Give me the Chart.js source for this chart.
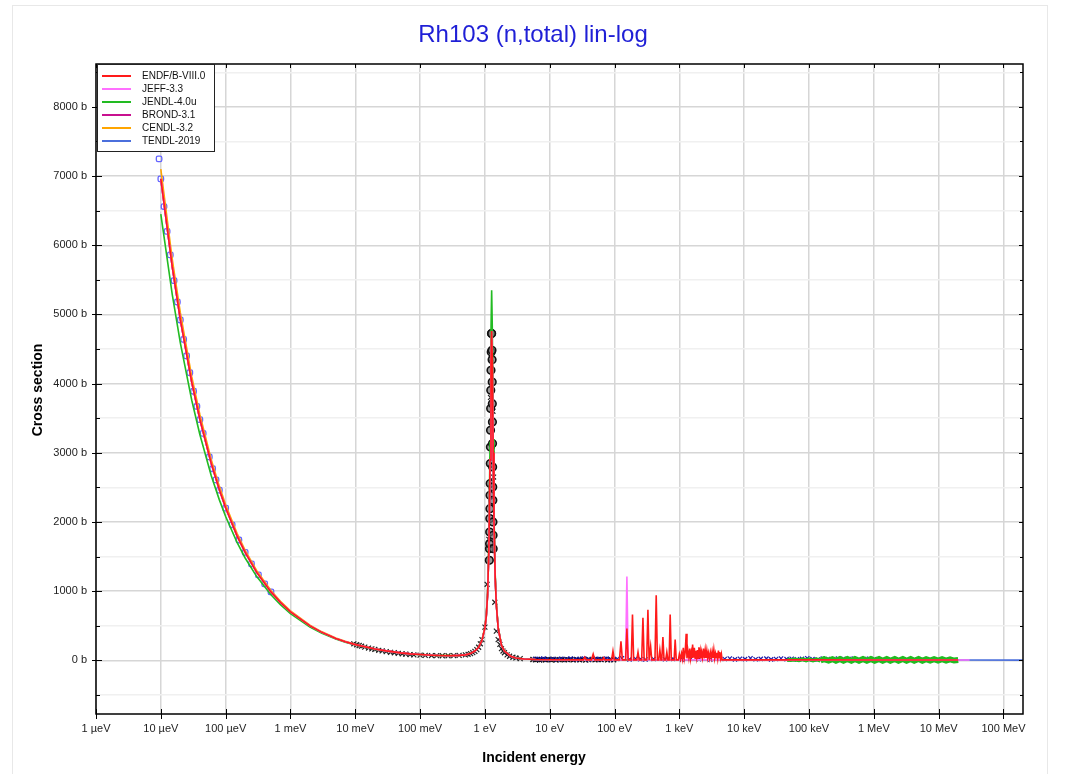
<!DOCTYPE html>
<html>
<head>
<meta charset="utf-8">
<script src="https://cdn.jsdelivr.net/npm/chart.js@4.4.0/dist/chart.umd.min.js"></script>
<style>
  body { margin: 0; background: #fff; }
  #wrap { position: relative; width: 1067px; height: 774px; overflow: hidden; }
  #card { position: absolute; left: 12px; top: 5px; width: 1034px; height: 800px; border: 1px solid #e8e8e8; }
  #plot { position: absolute; left: 0; top: 0; }
</style>
</head>
<body>
<div id="wrap">
  <div id="card"></div>
  <canvas id="plot" width="1067" height="774"></canvas>
</div>
<script>
// axis ticks
const xTickValues = [1e-6, 1e-5, 1e-4, 1e-3, 1e-2, 1e-1, 1, 10, 100, 1e3, 1e4, 1e5, 1e6, 1e7, 1e8]
const xTickLabels = ['1 \u00b5eV', '10 \u00b5eV', '100 \u00b5eV', '1 meV', '10 meV', '100 meV', '1 eV', '10 eV',
  '100 eV', '1 keV', '10 keV', '100 keV', '1 MeV', '10 MeV', '100 MeV']
const yTickValues = [-500, 0, 500, 1000, 1500, 2000, 2500, 3000, 3500, 4000, 4500, 5000, 5500, 6000, 6500, 7000, 7500, 8000, 8500]

// thermal + first resonance (eV / barn)
const smoothE = [1e-5, 1.5e-5, 2e-5, 3e-5, 4e-5, 6e-5, 8e-5, 1e-4, 1.5e-4, 2e-4, 3e-4, 5e-4, 7e-4, 1e-3, 2e-3, 3e-3,
  5e-3, 7e-3, 1e-2, 2e-2, 3e-2, 5e-2, 7e-2, 0.1, 0.15, 0.2, 0.3, 0.4, 0.5, 0.6, 0.7, 0.8, 0.9, 1.0, 1.05, 1.1, 1.15,
  1.2, 1.24, 1.27, 1.3, 1.34, 1.38, 1.44, 1.5, 1.6, 1.8, 2.0, 2.5, 3, 4, 6, 10]
const endfSmooth = [6960, 5690, 4925, 4020, 3485, 2845, 2465, 2205, 1800, 1560, 1275, 990, 838, 702, 498, 408,
  318, 270, 228, 165, 137, 108, 94, 84, 75, 70, 68, 72, 80, 100, 135, 190, 290, 470, 640, 950, 1600,
  2900, 4300, 4760, 4350, 3000, 2000, 1200, 800, 470, 220, 135, 60, 35, 20, 12, 9]
const jendlSmooth = [6450, 5290, 4590, 3760, 3265, 2670, 2320, 2080, 1705, 1480, 1215, 948, 805, 676, 482, 396,
  310, 264, 223, 162, 135, 107, 93, 83, 74, 69, 67, 71, 79, 99, 134, 190, 292, 480, 660, 990, 1700,
  3150, 4750, 5350, 4800, 3200, 2100, 1250, 820, 480, 225, 138, 61, 36, 20, 12, 9]
const cendlSmooth = [7100, 5800, 5025, 4100, 3555, 2900, 2515, 2250, 1836, 1590, 1300, 1010, 855, 716, 508, 416,
  324, 275, 232, 168, 139, 110, 95, 85, 76, 71, 69, 73, 81, 101, 136, 192, 292, 475, 645, 960, 1620,
  2930, 4340, 4800, 4390, 3030, 2020, 1210, 808, 475, 222, 136, 61, 35, 20, 12, 9]

// resolved resonances, ENDF/B-VIII.0
const endfResE = [
  30, 33, 34.6, 36.5,   44, 46.8, 49.5,   65, 68, 71,   90, 94.5, 99,   119, 125.5, 132,
  148, 155, 162,   181, 189, 197,   220, 230, 240,   262, 274, 286,   313, 327, 341,
  345, 360, 375,   420, 439, 458,   480, 500, 520,   535, 557, 580,   615, 640, 665,
  695, 721, 750,   830, 861, 895,   965, 1000, 1040, 1080, 1115, 1150, 1190, 1230, 1273,
  1310, 1350, 1400, 1450, 1490, 1530, 1565, 1600, 1650, 1700, 1750, 1800, 1850, 1900, 1950,
  2000, 2050, 2100, 2150, 2200, 2270, 2350, 2420, 2500, 2570, 2650, 2720, 2800, 2900, 3000,
  3100, 3200, 3300, 3400, 3500, 3600, 3700, 3800, 3900, 4000, 4100, 4200, 4320, 4450, 4550,
  5000]
const endfResXs = [
  8, 8, 45, 8,   8, 90, 8,   8, 40, 8,   8, 134, 8,   8, 274, 8,
  8, 460, 8,   8, 664, 8,   8, 120, 8,   8, 616, 8,   8, 731, 8,
  8, 200, 8,   8, 942, 8,   8, 150, 8,   8, 336, 8,   8, 120, 8,
  8, 664, 8,   8, 303, 8,   8, 90, 20, 100, 25, 180, 30, 120, 385,
  30, 150, 40, 170, 30, 110, 35, 230, 40, 180, 30, 140, 45, 150, 30,
  190, 40, 130, 30, 120, 40, 170, 30, 150, 35, 140, 40, 110, 30, 120,
  40, 130, 35, 150, 30, 100, 40, 110, 30, 140, 40, 120, 30, 90, 8,
  8]
const jeffResE = [30, 148, 155, 162, 5000]
const jeffResXs = [8, 8, 1212, 8, 8]
const flatResE = [30, 5000]
const flatResXs = [8, 8]

// fast range
const endfHighE = [1e4, 1e5, 1e6, 5e6, 2e7]
const endfHighXs = [8, 7, 6, 5, 5]
const jeffHighE = [1e4, 1e6, 1e7, 3e7]
const jeffHighXs = [8, 6, 5, 5]
const tendlHighE = [1e4, 1e6, 2e7, 2e8]
const tendlHighXs = [8, 6, 5, 4]
const jendlHighE = [1e4, 4.6e4, 5.2e4, 6e4, 7e4, 8e4, 9e4, 1e5, 1.15e5, 1.3e5, 1.5e5, 1.7e5, 2e5, 2.3e5, 2.6e5,
  3e5, 3.4e5, 3.9e5, 4.5e5, 5.1e5, 5.9e5, 6.8e5, 7.8e5, 9e5, 1.03e6, 1.2e6, 1.37e6, 1.58e6, 1.8e6, 2.1e6,
  2.4e6, 2.8e6, 3.2e6, 3.7e6, 4.2e6, 4.9e6, 5.6e6, 6.4e6, 7.4e6, 8.5e6, 9.8e6, 1.13e7, 1.3e7, 1.5e7, 1.73e7, 2e7]
const jendlHighXs = [8, 10, 4, 12, 2, 14, 0, 15, -2, 16, -3, 18, -4, 18, -5,
  20, -5, 20, -6, 20, -6, 20, -6, 20, -6, 20, -6, 20, -6, 20,
  -6, 19, -5, 19, -5, 19, -4, 18, -4, 18, -4, 16, -3, 15, -2, 5]

// measured points
const expBlueE = [9.4e-6, 1.0e-5, 1.12e-5, 1.25e-5, 1.4e-5, 1.6e-5, 1.8e-5, 2.0e-5, 2.25e-5, 2.5e-5, 2.8e-5, 3.2e-5,
  3.6e-5, 4.0e-5, 4.5e-5, 5.6e-5, 6.3e-5, 7.1e-5, 8.0e-5, 1.0e-4, 1.26e-4, 1.6e-4, 2.0e-4, 2.5e-4, 3.2e-4, 4.0e-4, 5.0e-4]
const expBlueXs = [7250, 6960, 6560, 6200, 5860, 5490, 5180, 4920, 4640, 4400, 4160, 3890,
  3670, 3480, 3280, 2940, 2770, 2610, 2460, 2200, 1960, 1740, 1560, 1395, 1235, 1105, 990]
const expCrossE = [0.0095, 0.0105, 0.0115, 0.0125, 0.014, 0.016, 0.018, 0.02, 0.023, 0.026, 0.03, 0.035, 0.04,
  0.046, 0.053, 0.06, 0.07, 0.08, 0.1, 0.12, 0.15, 0.18, 0.22, 0.27, 0.33, 0.4, 0.5, 0.55, 0.6, 0.65, 0.7,
  0.75, 0.8, 0.85, 0.9, 1.0, 1.08, 1.15, 1.22, 1.25, 1.33, 1.36, 1.42, 1.5, 1.6, 1.7, 1.8, 1.9, 2.0, 2.2,
  2.4, 2.7, 3.0, 3.5]
const expCrossXs = [240, 226, 215, 205, 192, 178, 167, 158, 146, 137, 127, 117, 110,
  102, 95, 90, 84, 80, 75, 72, 70, 68, 67, 67, 68, 72, 80, 88, 98, 112, 130,
  155, 190, 240, 300, 480, 1100, 1750, 3800, 4360, 3600, 2650, 840, 423, 300, 230, 170, 135, 110, 80,
  60, 45, 35, 25]
const expCircE = [1.17, 1.175, 1.18, 1.185, 1.19, 1.195, 1.2, 1.205, 1.21, 1.215, 1.22, 1.225, 1.23, 1.24, 1.25,
  1.262, 1.27, 1.285, 1.29, 1.295, 1.3, 1.305, 1.31, 1.315, 1.32, 1.325, 1.33, 1.335, 1.34]
const expCircXs = [1446, 1615, 1687, 1855, 2049, 2193, 2386, 2555, 2844, 3084, 3326, 3639, 3904, 4193, 4458,
  4724, 4724, 4482, 4347, 4024, 3711, 3446, 3133, 2796, 2507, 2314, 2001, 1808, 1615]
const expBandE = [5.5, 6, 6.5, 7, 7.5, 8, 8.7, 9.5, 10.5, 11.5, 12.5, 14, 15.5, 17, 19, 21, 23, 26, 29, 32,
  36, 40, 45, 50, 56, 62, 70, 78, 87, 97]
const expBandXs = [12, 8, 15, 6, 10, 14, 7, 12, 9, 15, 6, 11, 13, 8, 10, 14, 7, 12, 9, 16,
  6, 11, 14, 8, 12, 10, 15, 7, 11, 9]
const expNavyE = [6, 7, 8, 9, 11, 13, 15, 18, 21, 25, 29, 34, 40, 52, 60, 75, 85, 110, 130, 170,
  210, 250, 300, 400, 600, 800, 1100, 1500, 2000, 3000, 5000, 6000, 7200, 8600, 1.03e4, 1.25e4, 1.5e4, 1.8e4, 2.2e4, 2.6e4,
  3.1e4, 3.7e4, 4.5e4, 5.4e4, 6.5e4, 7.8e4, 9.4e4, 1.13e5, 1.36e5, 1.63e5, 1.96e5, 2.35e5, 2.8e5, 3.4e5, 4.1e5, 4.9e5,
  5.9e5, 7.1e5, 8.5e5, 1.02e6]
const expNavyXs = [22, 18, 25, 15, 20, 12, 24, 16, 28, 14, 19, 26, 12, 22, 17, 25, 13, 20, 30, 15,
  24, 18, 12, 20, 16, 22, 14, 26, 18, 15, 20, 28, 14, 24, 18, 30, 16, 22, 26, 14,
  20, 28, 18, 24, 15, 22, 30, 18, 12, 25, 20, 16, 28, 22, 18, 26, 14, 20, 24, 18]

const pts = (xs, ys) => xs.map((x, i) => ({ x: x, y: ys[i] }))

function libLine(label, color, e, xs) {
  return { label: label, inLegend: true, data: pts(e, xs), showLine: true, borderColor: color,
    backgroundColor: color, borderWidth: 1.6, pointRadius: 0, tension: 0 }
}
function markers(e, xs, style, radius, stroke, fill, width) {
  return { label: '', data: pts(e, xs), showLine: false, pointStyle: style, pointRadius: radius,
    borderColor: stroke, backgroundColor: fill, borderWidth: width }
}

const jendl = libLine('JENDL-4.0u', '#22bb22', [...smoothE, ...flatResE, ...jendlHighE], [...jendlSmooth, ...flatResXs, ...jendlHighXs])
// the fast-range band is drawn thick
jendl.segment = { borderWidth: c => (c.p0.parsed.x >= 4.5e4 ? (c.p0.parsed.x >= 1.5e5 ? 6 : 4) : 1.6) }

const datasets = [
  libLine('ENDF/B-VIII.0', '#ff1a1a', [...smoothE, ...endfResE, ...endfHighE], [...endfSmooth, ...endfResXs, ...endfHighXs]),
  libLine('JEFF-3.3', '#ff70ff', [...smoothE, ...jeffResE, ...jeffHighE], [...endfSmooth, ...jeffResXs, ...jeffHighXs]),
  jendl,
  libLine('BROND-3.1', '#c8108f', [...smoothE, ...flatResE, ...endfHighE], [...endfSmooth, ...flatResXs, ...endfHighXs]),
  libLine('CENDL-3.2', '#ffa500', [...smoothE, ...flatResE, ...endfHighE], [...cendlSmooth, ...flatResXs, ...endfHighXs]),
  libLine('TENDL-2019', '#4b6fdc', [...smoothE, ...flatResE, ...tendlHighE], [...endfSmooth, ...flatResXs, ...tendlHighXs]),
  markers(expCircE, expCircXs, 'circle', 3.8, '#111', 'rgba(110,110,110,0.7)', 1.6),
  markers(expCrossE, expCrossXs, 'crossRot', 3.5, '#222', '#222', 1.2),
  markers(expBlueE, expBlueXs, 'rectRounded', 3.2, '#6464ff', 'rgba(255,255,255,0)', 1.3),
  markers(expNavyE, expNavyXs, 'crossRot', 3, '#1c1ca8', '#1c1ca8', 1.2),
  markers(expBandE, expBandXs, 'crossRot', 3.5, '#111', '#111', 1.3)
]

const decor = {
  id: 'decor',
  afterDraw(chart) {
    const ctx = chart.ctx, a = chart.chartArea, x = chart.scales.x, y = chart.scales.y
    const seg = (x1, y1, x2, y2) => { ctx.beginPath(); ctx.moveTo(x1, y1); ctx.lineTo(x2, y2); ctx.stroke() }
    ctx.save()
    ctx.strokeStyle = '#000'
    ctx.lineWidth = 1
    xTickValues.forEach(v => {
      const px = Math.round(x.getPixelForValue(v)) + 0.5
      seg(px, a.bottom - 5, px, a.bottom + 5)
      seg(px, a.top, px, a.top + 4)
    })
    yTickValues.forEach(v => {
      const py = Math.round(y.getPixelForValue(v)) + 0.5
      if (v % 1000 === 0) {
        seg(a.left - 4, py, a.left + 6, py)
        seg(a.right - 4, py, a.right, py)
      } else {
        seg(a.left, py, a.left + 4, py)
        seg(a.right - 3, py, a.right, py)
      }
    })
    ctx.lineWidth = 1.5
    ctx.strokeRect(a.left, a.top, a.right - a.left, a.bottom - a.top)

    // legend box inside the plot
    const items = chart.data.datasets.filter(d => d.inLegend)
    const lx = a.left + 1, ly = a.top, lw = 117, lh = 87
    ctx.fillStyle = '#fff'
    ctx.fillRect(lx, ly, lw, lh)
    ctx.lineWidth = 1
    ctx.strokeStyle = '#222'
    ctx.strokeRect(lx + 0.5, ly + 0.5, lw, lh)
    ctx.font = '10px "Liberation Sans", Arial, sans-serif'
    ctx.textBaseline = 'middle'
    ctx.textAlign = 'left'
    items.forEach((d, i) => {
      const ry = ly + 12 + i * 13
      ctx.strokeStyle = d.borderColor
      ctx.lineWidth = 2
      seg(lx + 5, ry, lx + 34, ry)
      ctx.fillStyle = '#111'
      ctx.fillText(d.label, lx + 45, ry)
    })

    // titles
    ctx.fillStyle = '#1f1fd6'
    ctx.textAlign = 'center'
    ctx.font = '24px "Liberation Sans", Arial, sans-serif'
    ctx.fillText('Rh103 (n,total) lin-log', 533, 35)
    ctx.fillStyle = '#000'
    ctx.font = 'bold 14px "Liberation Sans", Arial, sans-serif'
    ctx.fillText('Incident energy', 534, 758)
    ctx.translate(38, 390)
    ctx.rotate(-Math.PI / 2)
    ctx.fillText('Cross section', 0, 0)
    ctx.restore()
  }
}

Chart.defaults.font.family = '"Liberation Sans", Arial, sans-serif'
Chart.defaults.font.size = 11
Chart.defaults.color = '#222'

new Chart(document.getElementById('plot').getContext('2d'), {
  type: 'scatter',
  data: { datasets: datasets },
  options: {
    responsive: false,
    animation: false,
    layout: { padding: { top: 64, right: 44, left: 0, bottom: 0 } },
    scales: {
      x: {
        type: 'logarithmic',
        min: 1e-6,
        max: 2e8,
        afterBuildTicks: s => { s.ticks = xTickValues.map(v => ({ value: v })) },
        afterFit: s => { s.height = 60 },
        ticks: { autoSkip: false, maxRotation: 0, padding: 8, callback: (v, i) => xTickLabels[i] },
        grid: { drawTicks: false, color: '#d6d6d6', lineWidth: 1.5 },
        border: { display: false }
      },
      y: {
        type: 'linear',
        min: -775,
        max: 8620,
        afterBuildTicks: s => { s.ticks = yTickValues.map(v => ({ value: v })) },
        afterFit: s => { s.width = 96 },
        ticks: { autoSkip: false, padding: 9, callback: v => (v % 1000 === 0 ? v + ' b' : '') },
        grid: {
          drawTicks: false,
          lineWidth: 1.5,
          color: c => (c.tick && c.tick.value % 1000 === 0 ? '#d6d6d6' : '#f0f0f0')
        },
        border: { display: false }
      }
    },
    plugins: {
      legend: { display: false },
      tooltip: { enabled: false }
    }
  },
  plugins: [decor]
})
</script>
</body>
</html>
